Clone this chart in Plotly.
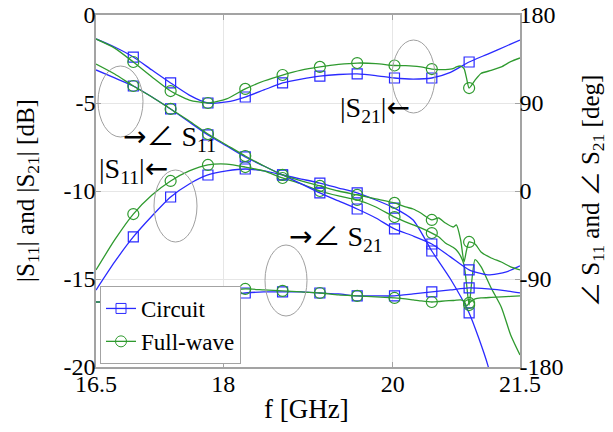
import plotly.graph_objects as go

# ---------------- data ----------------
f_circ = [16.50, 16.72, 16.94, 17.16, 17.38, 17.60, 17.82, 18.04, 18.26, 18.48, 18.70, 18.92,
          19.14, 19.36, 19.58, 19.80, 20.02, 20.24, 20.46, 20.68, 20.90, 21.12, 21.34, 21.50]
s21_db_circ = [-1.36, -1.82, -2.39, -3.13, -3.86, -4.55, -5.00, -4.94, -4.66, -4.26, -3.86, -3.64,
               -3.47, -3.38, -3.35, -3.44, -3.58, -3.64, -3.58, -3.26, -2.67, -2.22, -1.76, -1.42]
s11_db_circ = [-15.63, -14.03, -12.61, -11.42, -10.34, -9.60, -9.09, -8.86, -8.75, -8.86, -9.09, -9.32,
               -9.55, -9.83, -10.11, -10.51, -10.97, -11.65, -13.41, -15.00, -16.93, -19.89, -24.5, -29.0]
s11_deg_circ = [123.8, 115.6, 107.4, 96.2, 83.9, 70.6, 57.3, 46.1, 34.8, 25.6, 16.4, 7.2,
                -2.0, -10.2, -18.4, -27.6, -38.8, -46.0, -54.2, -67.4, -80.7, -85.8, -82.8, -76.6]
s21_deg_circ = [-113.5, -113.5, -113.5, -112.4, -111.4, -110.4, -108.3, -106.3, -104.3, -103.2, -103.2, -103.2,
                -104.3, -105.3, -107.3, -107.3, -107.3, -105.3, -103.2, -101.2, -99.1, -100.2, -102.2, -104.3]
mark_circ = [2, 4, 6, 8, 10, 12, 14, 16, 18, 20]

f_fw = [16.50, 16.72, 16.94, 17.16, 17.38, 17.60, 17.82, 18.04, 18.26, 18.48, 18.70, 18.92,
        19.14, 19.36, 19.58, 19.80, 20.02, 20.15, 20.24, 20.33, 20.46, 20.54, 20.62, 20.71,
        20.75, 20.80, 20.84, 20.87, 20.90, 20.97, 21.04, 21.16, 21.28, 21.39, 21.50]
s21_db_fw = [-1.36, -1.88, -2.67, -3.52, -4.32, -4.83, -5.00, -4.77, -4.20, -3.75, -3.41, -3.13,
             -2.95, -2.81, -2.73, -2.76, -2.87, -2.88, -2.90, -2.95, -3.07, -3.10, -3.10, -3.05,
             -2.95, -2.90, -3.05, -3.60, -4.15, -3.70, -3.32, -3.15, -2.95, -2.65, -2.44]
s11_db_fw = [-14.49, -12.78, -11.31, -10.23, -9.43, -8.86, -8.52, -8.47, -8.64, -8.86, -9.26, -9.60,
             -10.00, -10.28, -10.51, -10.91, -11.48, -11.75, -11.93, -12.10, -12.39, -12.60, -12.95, -13.20,
             -13.35, -13.70, -14.20, -15.30, -16.48, -13.90, -14.30, -15.51, -16.60, -18.18, -19.32]
s11_deg_fw = [129.9, 119.7, 107.4, 96.2, 83.9, 71.6, 58.3, 47.1, 35.8, 25.6, 16.4, 10.3,
              5.2, 0.0, -4.0, -8.1, -12.2, -16.3, -18.4, -22.5, -29.6, -27.6, -32.7, -36.8,
              -34.7, -50.1, -72.6, -60.3, -52.1, -54.2, -62.3, -68.5, -72.6, -77.7, -80.7]
s21_deg_fw = [-113.5, -113.5, -112.4, -111.4, -109.4, -107.3, -105.3, -102.2, -100.2, -101.2, -102.2, -103.2,
              -104.3, -106.3, -107.3, -108.3, -109.4, -110.4, -111.4, -112.4, -113.5, -113.0, -112.4, -112.0,
              -111.6, -111.4, -112.5, -117.5, -114.5, -110.4, -109.4, -108.8, -108.3, -107.8, -107.3]
mark_fw = [2, 4, 6, 8, 10, 12, 14, 16, 20, 28]

x_ticks = [16.5, 18, 20, 21.5]
x_ticktext = ["16.5", "18", "20", "21.5"]
yl_ticks = [-20, -15, -10, -5, 0]
yl_ticktext = ["-20", "-15", "-10", "-5", "0"]
yr_ticks = [-180, -90, 0, 90, 180]
yr_ticktext = ["-180", "-90", "0", "90", "180"]

# ---------------- styling ----------------
BLUE = "#2a2aff"
GREEN = "#2f9a2f"
GREY = "#a3a3a3"
FONT = "Liberation Serif, Times New Roman, serif"
W, H = 613, 432
L, R, T, B = 96, 93, 15, 65
PW, PH = W - L - R, H - T - B

ANG = "<span style='font-family:Noto Sans CJK JP'>∠</span>"
RA = "<span style='font-family:DejaVu Sans'>→</span>"
LA = "<span style='font-family:DejaVu Sans'>←</span>"


def px(x):
    return (x - L) / PW


def py(y):
    return (H - B - y) / PH


fig = go.Figure()


def add_curve(f, vals, marks, color, symbol, size, yaxis):
    fig.add_trace(go.Scatter(x=f, y=vals, mode="lines", yaxis=yaxis, showlegend=False,
                             line=dict(color=color, width=1.3, shape="spline", smoothing=0.6),
                             hoverinfo="skip"))
    fig.add_trace(go.Scatter(x=[f[i] for i in marks], y=[vals[i] for i in marks], mode="markers",
                             yaxis=yaxis, showlegend=False,
                             marker=dict(symbol=symbol, size=size, color=color,
                                         line=dict(color=color, width=1.2))))


for vals, ax in [(s21_db_circ, "y"), (s11_db_circ, "y"), (s11_deg_circ, "y2"), (s21_deg_circ, "y2")]:
    add_curve(f_circ, vals, mark_circ, BLUE, "square-open", 10, ax)
for vals, ax in [(s21_db_fw, "y"), (s11_db_fw, "y"), (s11_deg_fw, "y2"), (s21_deg_fw, "y2")]:
    add_curve(f_fw, vals, mark_fw, GREEN, "circle-open", 11, ax)

fig.add_trace(go.Scatter(x=[None], y=[None], mode="lines+markers", name="Circuit",
                         line=dict(color=BLUE, width=1.3),
                         marker=dict(symbol="square-open", size=10, color=BLUE)))
fig.add_trace(go.Scatter(x=[None], y=[None], mode="lines+markers", name="Full-wave",
                         line=dict(color=GREEN, width=1.3),
                         marker=dict(symbol="circle-open", size=11, color=GREEN)))

axis_common = dict(showline=True, linecolor=GREY, linewidth=1.5, ticks="inside", ticklen=5,
                   tickcolor=GREY, zeroline=False, automargin=False,
                   tickfont=dict(family=FONT, size=24, color="black"))

fig.update_layout(
    width=W, height=H, autosize=False,
    margin=dict(l=L, r=R, t=T, b=B, pad=0, autoexpand=False),
    plot_bgcolor="white", paper_bgcolor="white",
    font=dict(family=FONT, color="black"),
    xaxis=dict(range=[16.5, 21.5], tickvals=x_ticks, ticktext=x_ticktext, mirror="ticks",
               showgrid=True, gridcolor="#e6e6e6", gridwidth=1, **axis_common),
    yaxis=dict(range=[-20, 0], tickvals=yl_ticks, ticktext=yl_ticktext,
               showgrid=True, gridcolor="#e6e6e6", gridwidth=1, **axis_common),
    yaxis2=dict(range=[-180, 180], tickvals=yr_ticks, ticktext=yr_ticktext, overlaying="y",
                side="right", showgrid=False, **axis_common),
    legend=dict(x=px(100), y=py(364), xanchor="left", yanchor="bottom",
                bgcolor="white", bordercolor=GREY, borderwidth=1,
                font=dict(family=FONT, size=23, color="black"),
                itemwidth=30, tracegroupgap=0),
    showlegend=True,
)

for ax_name, val in [("xaxis", -6), ("yaxis", -6), ("yaxis2", -7)]:
    try:
        fig.update_layout({ax_name: dict(ticklabelstandoff=val)})
    except Exception:
        pass

ann_font = dict(family=FONT, size=28, color="black")
annotations = [
    dict(text=RA + ANG + " S<sub>11</sub>", x=px(121), y=py(135), xanchor="left", yanchor="middle"),
    dict(text="|S<sub>11</sub>|" + LA, x=px(97), y=py(170), xanchor="left", yanchor="middle"),
    dict(text="|S<sub>21</sub>|" + LA, x=px(338), y=py(109), xanchor="left", yanchor="middle"),
    dict(text=RA + ANG + " S<sub>21</sub>", x=px(287), y=py(235), xanchor="left", yanchor="middle"),
]
for a in annotations:
    fig.add_annotation(xref="paper", yref="paper", showarrow=False, font=ann_font, **a)

title_font = dict(family=FONT, size=27, color="black")
fig.add_annotation(text="f [GHz]", xref="paper", yref="paper", x=px(306), y=py(409),
                   xanchor="center", yanchor="middle", showarrow=False, font=title_font)
fig.add_annotation(text="|S<sub>11</sub>| and |S<sub>21</sub>| [dB]", xref="paper", yref="paper",
                   x=px(27), y=py(191), xanchor="center", yanchor="middle", textangle=-90,
                   showarrow=False, font=dict(family=FONT, size=25, color="black"))
fig.add_annotation(text=ANG + " S<sub>11</sub> and " + ANG + " S<sub>21</sub> [deg]",
                   xref="paper", yref="paper",
                   x=px(589), y=py(191), xanchor="center", yanchor="middle", textangle=-90,
                   showarrow=False, font=dict(family=FONT, size=25, color="black"))

ellipses = [(98, 66, 143, 137), (154, 170, 197, 242), (392, 40, 435, 113), (265, 245, 307, 316)]
for x0, y0, x1, y1 in ellipses:
    fig.add_shape(type="circle", xref="paper", yref="paper",
                  x0=px(x0), x1=px(x1), y0=py(y1), y1=py(y0),
                  line=dict(color="#a0a0a0", width=1))

fig.write_html("out.html", config={"displayModeBar": False},
               post_script="document.body.style.margin='0px';")
